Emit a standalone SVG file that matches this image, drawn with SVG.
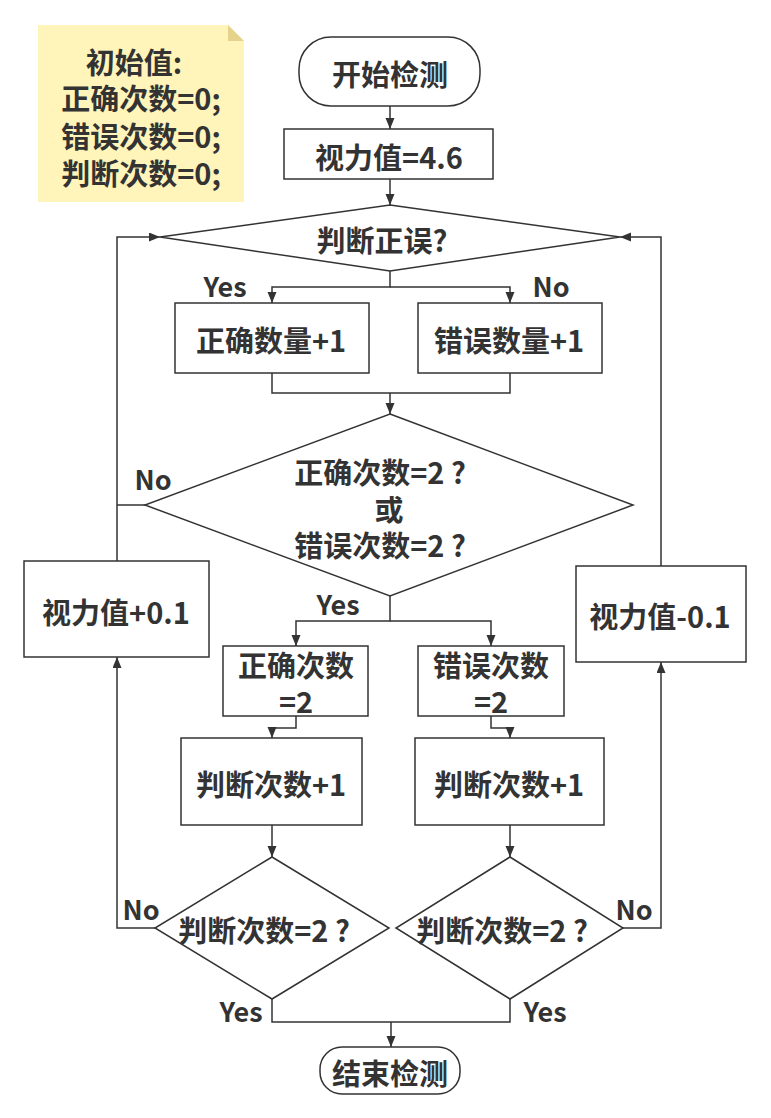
<svg xmlns="http://www.w3.org/2000/svg" width="771" height="1118" viewBox="0 0 771 1118">
  <defs>
    <marker id="arrow" markerUnits="userSpaceOnUse" markerWidth="12" markerHeight="10" refX="11" refY="4.5" orient="auto">
      <path d="M0,0 L11,4.5 L0,9 z" fill="#333"/>
    </marker>
    <style>
      .shape { fill: #fff; stroke: #333; stroke-width: 1.5; }
      .wire { fill: none; stroke: #333; stroke-width: 1.5; }
      .arr { marker-end: url(#arrow); }
      text { font-family: "Noto Sans CJK SC", "Noto Sans", sans-serif; font-weight: bold; fill: #333; font-size: 29px; text-anchor: middle; dominant-baseline: central; }
      .lbl { font-size: 27px; }
    </style>
  </defs>
  <rect width="771" height="1118" fill="#fff"/>

  <!-- initial values note -->
  <g id="note">
    <path d="M38,25 H228 L244,41 V202 H38 Z" fill="#FFF4B9"/>
    <path d="M228,25 L244,41 H228 Z" fill="#E6D38B"/>
    <text x="134" y="61">初始值:</text>
    <text x="141" y="97">正确次数=0;</text>
    <text x="141" y="135">错误次数=0;</text>
    <text x="141" y="172">判断次数=0;</text>
  </g>

  <!-- connectors -->
  <g id="connectors">
    <path class="wire arr" d="M390,106 V129"/>
    <path class="wire arr" d="M390,179 V205"/>
    <path class="wire arr" d="M390,271 V287 H272 V303"/>
    <path class="wire arr" d="M390,287 H510 V303"/>
    <path class="wire" d="M272,373 V393 H510 V373"/>
    <path class="wire arr" d="M390,393 V414"/>
    <path class="wire" d="M145,505 H117"/>
    <path class="wire arr" d="M117,561 V237 H160"/>
    <path class="wire arr" d="M661,566 V237 H620"/>
    <path class="wire arr" d="M390,596 V621 H296 V646"/>
    <path class="wire arr" d="M390,621 H491 V646"/>
    <path class="wire arr" d="M296,716 V728 H272 V738"/>
    <path class="wire arr" d="M491,716 V728 H510 V738"/>
    <path class="wire arr" d="M272,825 V857"/>
    <path class="wire arr" d="M510,825 V857"/>
    <path class="wire arr" d="M155,928 H117 V657"/>
    <path class="wire arr" d="M623,928 H661 V662"/>
    <path class="wire" d="M272,999 V1022 H510 V999"/>
    <path class="wire arr" d="M391,1022 V1047"/>
  </g>

  <!-- branch labels -->
  <g id="labels">
    <text class="lbl" x="225" y="285">Yes</text>
    <text class="lbl" x="551" y="285">No</text>
    <text class="lbl" x="153" y="478">No</text>
    <text class="lbl" x="338" y="603">Yes</text>
    <text class="lbl" x="141" y="908">No</text>
    <text class="lbl" x="634" y="908">No</text>
    <text class="lbl" x="241" y="1010">Yes</text>
    <text class="lbl" x="545" y="1010">Yes</text>
  </g>

  <g id="start">
    <rect class="shape" x="299" y="37" width="181" height="69" rx="32" ry="32"/>
    <text x="390" y="73">开始检测</text>
  </g>

  <g id="init-acuity">
    <rect class="shape" x="284" y="129" width="209" height="50"/>
    <text x="389" y="156">视力值=4.6</text>
  </g>

  <g id="judge">
    <path class="shape" d="M390,205 L620,237 L390,271 L160,237 Z"/>
    <text x="382" y="239">判断正误?</text>
  </g>

  <g id="correct-count">
    <rect class="shape" x="175" y="303" width="194" height="70"/>
    <text x="271" y="339">正确数量+1</text>
  </g>

  <g id="wrong-count">
    <rect class="shape" x="418" y="303" width="184" height="70"/>
    <text x="509" y="339">错误数量+1</text>
  </g>

  <g id="reach-two">
    <path class="shape" d="M390,414 L633,505 L390,596 L145,505 Z"/>
    <text x="380" y="471">正确次数=2 ?</text>
    <text x="389" y="508">或</text>
    <text x="380" y="544">错误次数=2 ?</text>
  </g>

  <g id="acuity-up">
    <rect class="shape" x="24" y="561" width="185" height="96"/>
    <text x="116" y="611">视力值+0.1</text>
  </g>

  <g id="acuity-down">
    <rect class="shape" x="576" y="566" width="170" height="96"/>
    <text x="660" y="615">视力值-0.1</text>
  </g>

  <g id="correct-two">
    <rect class="shape" x="223" y="646" width="145" height="70"/>
    <text x="296" y="664">正确次数</text>
    <text x="296" y="700">=2</text>
  </g>

  <g id="wrong-two">
    <rect class="shape" x="418" y="646" width="146" height="70"/>
    <text x="491" y="664">错误次数</text>
    <text x="491" y="700">=2</text>
  </g>

  <g id="judge-count-left">
    <rect class="shape" x="181" y="738" width="181" height="87"/>
    <text x="271" y="783">判断次数+1</text>
  </g>

  <g id="judge-count-right">
    <rect class="shape" x="415" y="738" width="189" height="87"/>
    <text x="509" y="783">判断次数+1</text>
  </g>

  <g id="check-left">
    <path class="shape" d="M272,857 L389,928 L272,999 L155,928 Z"/>
    <text x="264" y="929">判断次数=2 ?</text>
  </g>

  <g id="check-right">
    <path class="shape" d="M510,857 L623,928 L510,999 L396,928 Z"/>
    <text x="502" y="929">判断次数=2 ?</text>
  </g>

  <g id="end">
    <rect class="shape" x="320" y="1047" width="140" height="47" rx="22" ry="22"/>
    <text x="390" y="1072">结束检测</text>
  </g>
</svg>
